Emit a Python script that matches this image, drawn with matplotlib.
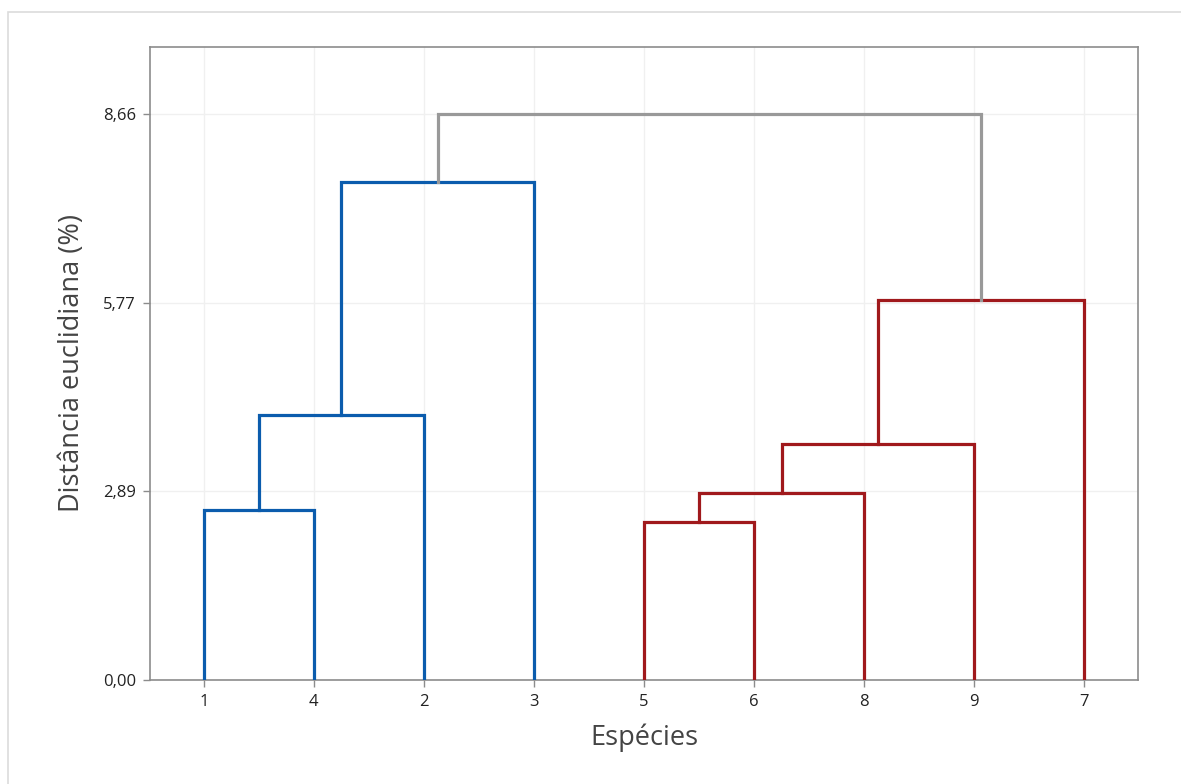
import matplotlib
matplotlib.use("Agg")
import matplotlib.pyplot as plt
from matplotlib.patches import Rectangle

plt.rcParams['font.family'] = ['Open Sans', 'DejaVu Sans']

# Leaf order and labels
leaf_labels = ["1", "4", "2", "3", "5", "6", "8", "9", "7"]
# Merges: (left node, right node, height, color); nodes are leaf labels or merge indices "m<i>"
merges = [
    ("1", "4", 2.60, "#0b5cad"),
    ("m0", "2", 4.05, "#0b5cad"),
    ("m1", "3", 7.62, "#0b5cad"),
    ("5", "6", 2.42, "#a0191c"),
    ("m3", "8", 2.86, "#a0191c"),
    ("m4", "9", 3.61, "#a0191c"),
    ("m5", "7", 5.81, "#a0191c"),
    ("m2", "m6", 8.66, "#999999"),
]
yticks = [0.00, 2.89, 5.77, 8.66]
ytick_labels = ["0,00", "2,89", "5,77", "8,66"]

fig = plt.figure(figsize=(11.81, 7.84), dpi=100)
fig.patches.append(Rectangle((8/1181, -0.01), 1.2, (784-12)/784 + 0.01, transform=fig.transFigure,
                             fill=False, edgecolor="#dcdcdc", linewidth=1.2))
ax = fig.add_axes([150/1181, 104/784, (1138-150)/1181, (680-47)/784])

pos = {lab: (i, 0.0) for i, lab in enumerate(leaf_labels)}
for k, (a, b, h, c) in enumerate(merges):
    xa, ya = pos[a]
    xb, yb = pos[b]
    ax.plot([xa, xa, xb, xb], [ya, h, h, yb], color=c, linewidth=2.3,
            solid_joinstyle="miter", zorder=3)
    pos[f"m{k}"] = ((xa + xb) / 2, h)

ax.set_xlim(-0.49, 8.49)
ax.set_ylim(0, 9.68)
ax.set_xticks(range(len(leaf_labels)))
ax.set_xticklabels(leaf_labels, fontsize=12)
ax.set_yticks(yticks)
ax.set_yticklabels(ytick_labels, fontsize=12)
ax.grid(True, color="#f0f0f0", linewidth=1.0, zorder=0)
ax.set_axisbelow(True)
for s in ax.spines.values():
    s.set_color("#8c8c8c")
    s.set_linewidth(1.2)
ax.tick_params(color="#8c8c8c", length=5, width=1, labelcolor="#222222", pad=5)
ax.set_xlabel("Espécies", fontsize=19.5, color="#444444", labelpad=10)
ax.set_ylabel("Distância euclidiana (%)", fontsize=19.5, color="#444444", labelpad=12)

fig.savefig("out.png", dpi=100)
